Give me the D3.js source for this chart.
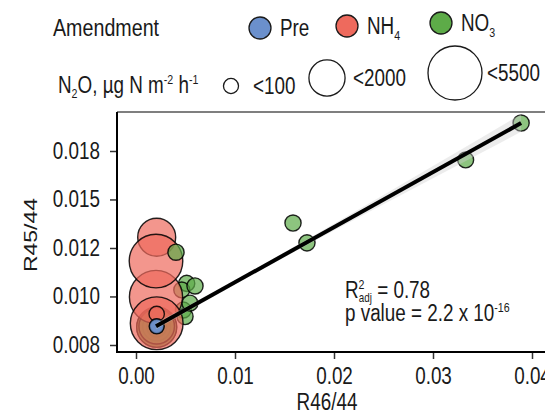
<!DOCTYPE html>
<html>
<head>
<meta charset="utf-8">
<script src="https://cdn.jsdelivr.net/npm/d3@7"></script>
<style>
  body { margin: 0; background: #fff; }
  text { font-family: "Liberation Sans", Arial, sans-serif; fill: #1a1a1a; }
</style>
</head>
<body>
<div id="chart"></div>
<script>

// Data
const groups = ["Pre", "NH4", "NO3"];
const groupColors = ["#6b90cc", "#ee6a5d", "#5dab48"];

// points, in drawing order
const ptGroup = ["NH4","NH4","NH4","NH4",
                 "NO3","NO3","NO3","NO3","NO3","NO3",
                 "NH4","NH4","NH4","NH4","NH4",
                 "NO3","NO3","NO3","NO3","NO3","NO3","NO3",
                 "Pre","Pre","Pre"];
const ptX = [0.00209, 0.00209, 0.00209, 0.00209,
             0.00209, 0.00209, 0.00512, 0.00462, 0.00478, 0.00495,
             0.00209, 0.00202, 0.00202, 0.00209, 0.00209,
             0.00404, 0.00596, 0.00545, 0.01586, 0.01727, 0.0333, 0.0389,
             0.00209, 0.00209, 0.00209];
const ptY = [0.00863, 0.00863, 0.00863, 0.00863,
             0.00861, 0.00865, 0.01035, 0.01007, 0.00926, 0.00901,
             0.01255, 0.00978, 0.01136, 0.00876, 0.00911,
             0.01179, 0.01024, 0.00953, 0.01332, 0.01226, 0.01734, 0.02023,
             0.00865, 0.00865, 0.00865];
const ptFlux = [2610, 1980, 980, 330,
                2600, 1900, 140, 130, 130, 140,
                2280, 5300, 5400, 5200, 110,
                140, 140, 130, 140, 140, 130, 140,
                40, 70, 100];

// regression (log10 R45/44 against R46/44) and its band
const fitIntercept = -2.083, fitSlope = 10.0;
const bandX  = [0.00205, 0.01, 0.02, 0.03, 0.0389];
const bandSe = [0.006, 0.004, 0.006, 0.011, 0.016];

const xTicks = [0, 0.01, 0.02, 0.03, 0.04];
const yTicks = [0.008, 0.0098, 0.012, 0.0147, 0.018];

const sizeLegendValues = [100, 2000, 5500];
const sizeLegendLabels = ["<100", "<2000", "<5500"];

// SVG drawing area
let W = 545, H = 413;
let panel = {left: 117, right: 548, top: 112, bottom: 352};
let squeeze = 0.82;   // the reference uses a narrow sans

let svg = d3.select("#chart").append("svg")
    .attr("width", W)
    .attr("height", H);

// narrow text placed at (tx, ty)
function ntext(tx, ty, size) {
  return svg.append("text")
    .attr("transform", "translate(" + tx + "," + ty + ") scale(" + squeeze + ",1)")
    .style("font-size", size + "px");
}

// Scales
let x = d3.scaleLinear().domain([0, 0.04]).range([136, 532]);
let y = d3.scaleLog().domain([0.008, 0.018]).range([345, 151]);
let r = d3.scaleSqrt().domain([0, 5500]).range([4.5, 27]);
let color = d3.scaleOrdinal().domain(groups).range(groupColors);

svg.append("clipPath").attr("id", "clip")
  .append("rect")
    .attr("x", panel.left).attr("y", panel.top)
    .attr("width", panel.right - panel.left)
    .attr("height", panel.bottom - panel.top);

let plot = svg.append("g").attr("clip-path", "url(#clip)");

// points
let pts = ptX.map((d, i) => ({x: d, y: ptY[i], g: ptGroup[i], f: ptFlux[i]}));

plot.selectAll(".pt")
  .data(pts)
  .enter().append("circle")
    .attr("class", "pt")
    .attr("cx", d => x(d.x))
    .attr("cy", d => y(d.y))
    .attr("r", d => r(d.f))
    .attr("fill", d => color(d.g))
    .attr("fill-opacity", 0.7)
    .attr("stroke", "#000")
    .attr("stroke-opacity", 0.85)
    .attr("stroke-width", 1.4);

// confidence band + fit line
let fit = v => Math.pow(10, fitIntercept + fitSlope * v);
let band = bandX.map((d, i) => ({x: d, lo: fit(d) / Math.pow(10, bandSe[i]), hi: fit(d) * Math.pow(10, bandSe[i])}));

plot.append("path")
  .datum(band)
  .attr("d", d3.area().x(d => x(d.x)).y0(d => y(d.lo)).y1(d => y(d.hi)).curve(d3.curveMonotoneX))
  .attr("fill", "#cfcfcf")
  .attr("fill-opacity", 0.4);

let xr = d3.extent(ptX);
plot.append("path")
  .datum(xr)
  .attr("d", d3.line().x(d => x(d)).y(d => y(fit(d))))
  .attr("stroke", "#000")
  .attr("stroke-width", 4)
  .attr("fill", "none");

// panel lines
svg.append("line").attr("x1", panel.left).attr("x2", W).attr("y1", panel.top).attr("y2", panel.top)
  .attr("stroke", "#000").attr("stroke-width", 1.2);
svg.append("line").attr("x1", panel.left).attr("x2", panel.left).attr("y1", panel.top).attr("y2", panel.bottom + 1)
  .attr("stroke", "#000").attr("stroke-width", 2);
svg.append("line").attr("x1", panel.left - 1).attr("x2", W).attr("y1", panel.bottom).attr("y2", panel.bottom)
  .attr("stroke", "#000").attr("stroke-width", 2);

// Axes
let xAxis = d3.axisBottom(x).tickValues(xTicks).tickFormat(d3.format(".2f")).tickSize(6).tickPadding(9);
let yAxis = d3.axisLeft(y).tickValues(yTicks).tickFormat(d3.format(".3f")).tickSize(6).tickPadding(9);

let xg = svg.append("g").attr("transform", "translate(0," + (panel.bottom + 1) + ")").call(xAxis);
let yg = svg.append("g").attr("transform", "translate(" + (panel.left - 1) + ",0)").call(yAxis);

[xg, yg].forEach(g => {
  g.select(".domain").remove();
  g.selectAll(".tick line").attr("stroke", "#333").attr("stroke-width", 1.5);
  g.selectAll(".tick text")
    .style("font-size", "23px")
    .attr("fill", "#1a1a1a")
    .attr("transform", "scale(" + squeeze + ",1)");
});
yg.selectAll(".tick text").attr("x", -16 / squeeze);

ntext(327, 410, 23).attr("text-anchor", "middle").text("R46/44");

svg.append("text")
  .attr("transform", "translate(" + 37 + "," + 235 + ")rotate(270) scale(1," + squeeze + ")")
  .attr("text-anchor", "middle")
  .style("font-size", "23px")
  .text("R45/44");

// annotation
let ann1 = ntext(345, 298, 23);
ann1.append("tspan").text("R");
ann1.append("tspan").attr("dy", -9).style("font-size", "13px").text("2");
ann1.append("tspan").attr("dy", 13).attr("dx", -7).style("font-size", "12px").text("adj");
ann1.append("tspan").attr("dy", -4).text(" = 0.78");

let ann2 = ntext(345, 321, 23);
ann2.append("tspan").text("p value = 2.2 x 10");
ann2.append("tspan").attr("dy", -9).style("font-size", "13px").text("-16");

// Legend: colour
ntext(53, 36, 24).text("Amendment");

let keyCx = [260, 347, 441], keyCy = [28, 26, 23];
groups.forEach((gname, i) => {
  svg.append("circle")
    .attr("cx", keyCx[i]).attr("cy", keyCy[i]).attr("r", 11)
    .attr("fill", color(gname))
    .attr("stroke", "#1a1a1a").attr("stroke-width", 1.3);
  let t = ntext(keyCx[i] + 20, keyCy[i] + 8, 23);
  if (gname == "Pre") {
    t.text("Pre");
  } else {
    t.append("tspan").text(gname.slice(0, 2));
    t.append("tspan").attr("dy", 6).style("font-size", "13px").text(gname.slice(2));
  }
});

// Legend: size
let sz = ntext(58, 93, 23);
sz.append("tspan").text("N");
sz.append("tspan").attr("dy", 5).style("font-size", "13px").text("2");
sz.append("tspan").attr("dy", -5).text("O, \u00b5g N m");
sz.append("tspan").attr("dy", -9).style("font-size", "13px").text("-2");
sz.append("tspan").attr("dy", 9).text(" h");
sz.append("tspan").attr("dy", -9).style("font-size", "13px").text("-1");

let sizeCx = [231, 327, 455], sizeCy = [86, 78, 73], sizeTx = [253, 353, 487];
sizeLegendValues.forEach((v, i) => {
  svg.append("circle")
    .attr("cx", sizeCx[i]).attr("cy", sizeCy[i]).attr("r", r(v))
    .attr("fill", "#fff")
    .attr("stroke", "#1a1a1a").attr("stroke-width", 1.3);
  ntext(sizeTx[i], sizeCy[i] + 8, 23).text(sizeLegendLabels[i]);
});

</script>
</body>
</html>
